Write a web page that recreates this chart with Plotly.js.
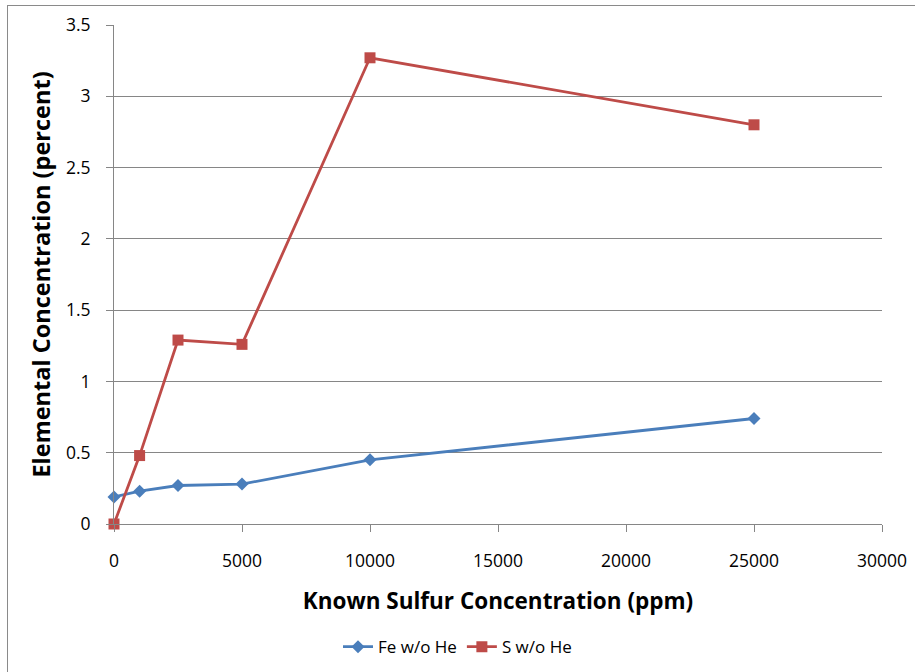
<!DOCTYPE html>
<html>
<head>
<meta charset="utf-8">
<script src="https://cdn.plot.ly/plotly-3.0.1.min.js"></script>
<style>
html,body{margin:0;padding:0;background:#fff;}
#wrap{position:relative;width:915px;height:672px;}
#chart{width:915px;height:672px;}
#frame{position:absolute;left:7px;top:5px;width:912px;height:672px;border:1.5px solid #8a8a8a;pointer-events:none;box-sizing:border-box;}
</style>
</head>
<body>
<div id="wrap"><div id="chart"></div><div id="frame"></div></div>
<script>
const xKnown = [0, 1000, 2500, 5000, 10000, 25000];
const feVals = [0.19, 0.23, 0.27, 0.28, 0.45, 0.74];
const sVals = [0.0, 0.48, 1.29, 1.26, 3.27, 2.80];
const seriesNames = ["Fe w/o He", "S w/o He"];
const xTicks = [0, 5000, 10000, 15000, 20000, 25000, 30000];
const yTicks = [0, 0.5, 1, 1.5, 2, 2.5, 3, 3.5];
const yTickText = ["0", "0.5", "1", "1.5", "2", "2.5", "3", "3.5"];

const font = "Open Sans, Noto Sans, sans-serif";
const traces = [
  {x: xKnown, y: feVals, name: seriesNames[0], type: "scatter", mode: "lines+markers", cliponaxis: false,
   line: {color: "#4A7EBB", width: 2.8}, marker: {symbol: "diamond", size: 10, color: "#4A7EBB"}},
  {x: xKnown, y: sVals, name: seriesNames[1], type: "scatter", mode: "lines+markers", cliponaxis: false,
   line: {color: "#BE4B48", width: 2.8}, marker: {symbol: "square", size: 11, color: "#BE4B48"}}
];
const layout = {
  width: 915, height: 672,
  margin: {l: 114, r: 33, t: 25, b: 148, autoexpand: false},
  paper_bgcolor: "#fff", plot_bgcolor: "#fff",
  font: {family: font, color: "#000", size: 17},
  showlegend: true,
  legend: {orientation: "h", x: 0.5, xref: "container", xanchor: "center",
           y: 0.037, yref: "container", yanchor: "middle",
           font: {size: 17, family: font}, itemwidth: 30, tracegroupgap: 0},
  xaxis: {
    range: [0, 30000], tickvals: xTicks, ticktext: xTicks.map(String),
    showgrid: false, zeroline: false, showline: true, linecolor: "#868686", linewidth: 1,
    ticks: "outside", ticklen: 7, tickcolor: "#868686", ticklabelstandoff: 14,
    tickfont: {size: 17.5, family: font},
    title: {text: "<b>Known Sulfur Concentration (ppm)</b>", font: {size: 22.5, family: font}, standoff: 22}
  },
  yaxis: {
    range: [0, 3.5], tickvals: yTicks, ticktext: yTickText,
    showgrid: true, gridcolor: "#868686", gridwidth: 1, zeroline: false,
    showline: true, linecolor: "#868686", linewidth: 1,
    ticks: "outside", ticklen: 7, tickcolor: "#868686", ticklabelstandoff: 12,
    tickfont: {size: 17.5, family: font},
    title: {text: "<b>Elemental Concentration (percent)</b>", font: {size: 23.5, family: font}, standoff: 8}
  }
};
Plotly.newPlot("chart", traces, layout, {displayModeBar: false, staticPlot: true});
</script>
</body>
</html>
